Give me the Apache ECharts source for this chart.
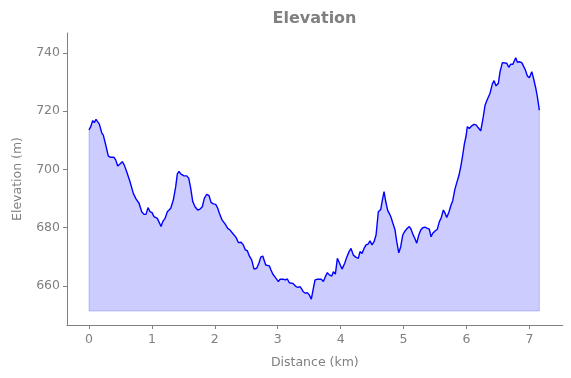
<!DOCTYPE html>
<html>
<head>
<meta charset="utf-8">
<script src="https://cdn.jsdelivr.net/npm/echarts@6/dist/echarts.min.js"></script>
<style>html,body{margin:0;padding:0;background:#fff}#c{width:571px;height:378px}</style>
</head>
<body>
<div id="c"></div>
<script>
const distanceKm = [0.00,0.027,0.059,0.084,0.111,0.132,0.164,0.202,0.227,0.266,0.307,0.345,0.397,0.424,0.456,0.493,0.529,0.561,0.599,0.652,0.704,0.747,0.795,0.838,0.874,0.906,0.938,0.970,1.002,1.033,1.086,1.118,1.145,1.172,1.208,1.245,1.299,1.340,1.378,1.404,1.431,1.458,1.483,1.510,1.553,1.585,1.617,1.649,1.685,1.728,1.765,1.801,1.833,1.871,1.908,1.940,1.976,2.014,2.046,2.072,2.114,2.162,2.205,2.242,2.269,2.305,2.337,2.374,2.417,2.453,2.485,2.517,2.548,2.587,2.623,2.666,2.703,2.730,2.762,2.782,2.809,2.835,2.866,2.893,2.921,2.946,2.973,3.010,3.037,3.064,3.089,3.121,3.153,3.184,3.211,3.238,3.264,3.291,3.323,3.355,3.382,3.407,3.439,3.471,3.502,3.534,3.566,3.593,3.630,3.661,3.693,3.725,3.757,3.789,3.820,3.859,3.884,3.916,3.948,3.979,4.022,4.065,4.097,4.134,4.165,4.202,4.240,4.281,4.308,4.340,4.372,4.404,4.436,4.467,4.499,4.531,4.563,4.599,4.638,4.663,4.690,4.717,4.749,4.785,4.801,4.828,4.865,4.892,4.924,4.955,4.987,5.024,5.060,5.092,5.119,5.146,5.178,5.210,5.242,5.273,5.305,5.342,5.378,5.410,5.437,5.464,5.501,5.537,5.569,5.596,5.633,5.660,5.687,5.723,5.755,5.782,5.814,5.846,5.882,5.914,5.941,5.967,5.994,6.014,6.046,6.084,6.121,6.153,6.184,6.227,6.259,6.296,6.323,6.348,6.375,6.412,6.439,6.471,6.507,6.534,6.571,6.602,6.641,6.672,6.704,6.736,6.757,6.784,6.809,6.841,6.879,6.905,6.936,6.968,7.000,7.038,7.064,7.102,7.127,7.159];
const elevationM = [713.6,714.7,716.8,716.1,717.2,717.2,715.6,712.6,711.8,708.4,704.6,704.2,704.2,703.3,701.2,701.9,702.7,701.5,699.2,695.8,691.8,689.9,688.4,685.5,684.6,684.6,686.9,685.5,685.2,683.8,683.2,681.7,680.4,682.1,683.2,685.5,686.7,689.5,694.1,698.5,699.3,698.5,698.9,697.8,697.8,697.0,693.5,689.0,687.2,686.1,686.4,687.2,690.1,691.5,691.0,688.7,688.2,688.0,686.7,685.0,682.7,681.3,679.8,679.2,679.2,677.5,676.7,674.9,675.0,674.1,672.4,672.1,670.3,668.9,665.8,666.1,668.0,669.9,670.3,670.6,667.2,666.9,666.9,665.5,664.1,664.1,662.6,661.5,662.3,661.7,662.3,662.1,662.4,661.1,660.9,660.9,660.3,659.8,659.5,659.8,658.9,658.0,657.5,657.7,656.9,655.5,659.2,662.1,662.3,662.6,662.3,661.5,663.2,664.6,663.8,663.4,664.9,664.1,669.5,668.0,665.8,667.8,669.9,671.8,672.9,670.6,669.9,669.5,671.8,671.2,672.9,674.1,674.4,675.5,674.1,675.2,677.5,685.5,686.3,689.5,692.4,689.0,685.9,684.4,683.6,681.7,679.2,675.2,671.4,673.5,677.5,678.9,679.8,680.4,679.5,677.9,676.4,674.7,677.5,679.2,680.0,680.2,679.8,679.5,676.9,678.1,678.9,679.5,682.1,683.2,686.1,685.0,683.5,685.5,687.8,689.3,693.0,695.5,698.1,701.5,705.0,708.8,711.5,714.7,714.1,715.0,715.5,715.3,714.4,713.3,717.0,722.1,723.6,724.1,726.2,729.4,730.5,728.7,729.6,733.6,736.7,737.0,736.5,735.1,736.2,736.1,736.2,738.4,736.8,737.0,736.7,736.1,734.2,732.1,731.5,733.6,731.5,727.9,725.0,720.4];
const xTicks = [0,1,2,3,4,5,6,7];
const yTicks = [660,680,700,720,740];
const fillBase = 651.4;

const gray = '#808080';
const font = 'DejaVu Sans';
const n = distanceKm.length;
const fillEdge = [
  [distanceKm[0], elevationM[0]],
  [distanceKm[0], fillBase],
  [distanceKm[n-1], fillBase],
  [distanceKm[n-1], elevationM[n-1]]
];
const chart = echarts.init(document.getElementById('c'), null, {renderer:'canvas'});
chart.setOption({
  animation:false,
  backgroundColor:'#fff',
  title:{
    text:'Elevation', left:309.5, top:6, textAlign:'center',
    textStyle:{color:gray, fontWeight:'bold', fontSize:16, fontFamily:font}
  },
  grid:{left:67, right:8.3, top:33, bottom:53, containLabel:false},
  xAxis:{
    type:'value', min:-0.35, max:7.53,
    name:'Distance (km)', nameLocation:'middle', nameGap:31,
    nameTextStyle:{color:gray, fontSize:12.5, fontFamily:font},
    axisLine:{show:true, onZero:false, lineStyle:{color:gray, width:1}},
    axisTick:{show:true, length:4, customValues:xTicks, lineStyle:{color:gray}},
    axisLabel:{customValues:xTicks, color:gray, fontSize:12.5, fontFamily:font, margin:8},
    splitLine:{show:false}
  },
  yAxis:{
    type:'value', min:646.6, max:746.87,
    name:'Elevation (m)', nameLocation:'middle', nameGap:43,
    nameTextStyle:{color:gray, fontSize:12.5, fontFamily:font},
    axisLine:{show:true, onZero:false, lineStyle:{color:gray, width:1}},
    axisTick:{show:true, length:4, customValues:yTicks, lineStyle:{color:gray}},
    axisLabel:{customValues:yTicks, color:gray, fontSize:12.5, fontFamily:font, margin:7},
    splitLine:{show:false}
  },
  series:[{
    type:'line',
    data: fillEdge,
    showSymbol:false, symbol:'none', silent:true, z:1,
    lineStyle:{color:'rgba(0,0,255,0.2)', width:1}
  },{
    type:'line',
    data: distanceKm.map((d,i)=>[d, elevationM[i]]),
    showSymbol:false, symbol:'none', smooth:false, z:2,
    lineStyle:{color:'#0000ff', width:1.4},
    areaStyle:{color:'rgba(0,0,255,0.2)', origin:fillBase, opacity:1}
  }]
});
</script>
</body>
</html>
